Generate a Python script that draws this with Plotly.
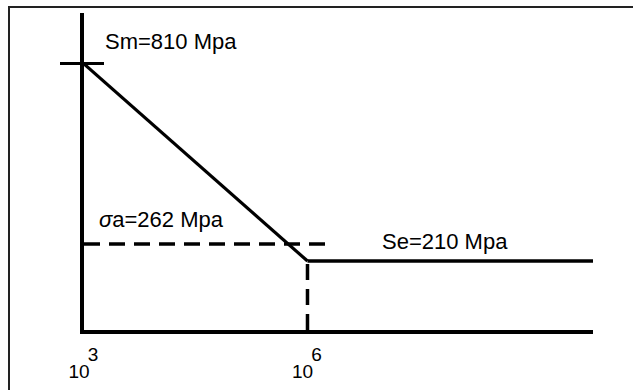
import math
import plotly.graph_objects as go

# ---- data ----
sn_cycles = [1e3, 1e6]          # S-N sloped segment
sn_stress = [810, 210]          # Sm -> Se (MPa)
endurance_cycles = [1e6, 6.8e9] # endurance limit plateau
endurance_stress = [210, 210]
sigma_a = 262                   # applied amplitude (MPa)
sigma_a_cycles = [1e3, 1.8e6]
knee_cycles = [1e6, 1e6]
knee_stress = [0, 210]
tick_cycles = [1e3, 1e6]
tick_base = ["10", "10"]
tick_exponents = ["3", "6"]
sm_value = 810
se_value = 210

W, H = 633, 390
L, R, T, B = 84, 40, 13, 60
FONT = "Liberation Sans, Arial, sans-serif"

fig = go.Figure()

fig.add_trace(go.Scatter(x=sn_cycles, y=sn_stress, mode="lines",
                         line=dict(color="black", width=3.2), hoverinfo="skip"))
fig.add_trace(go.Scatter(x=endurance_cycles, y=endurance_stress, mode="lines",
                         line=dict(color="black", width=3.5), hoverinfo="skip"))
fig.add_trace(go.Scatter(x=sigma_a_cycles, y=[sigma_a, sigma_a], mode="lines",
                         line=dict(color="black", width=3.5, dash="16px,9px"), hoverinfo="skip"))
fig.add_trace(go.Scatter(x=knee_cycles, y=knee_stress, mode="lines",
                         line=dict(color="black", width=3.5, dash="16px,9px"), hoverinfo="skip"))
# invisible traces to activate the overlay axes
fig.add_trace(go.Scatter(x=[sn_cycles[0]], y=[sm_value], yaxis="y2", mode="markers",
                         marker=dict(opacity=0), hoverinfo="skip"))
fig.add_trace(go.Scatter(x=[sn_cycles[0]], y=[sm_value], xaxis="x2", mode="markers",
                         marker=dict(opacity=0), hoverinfo="skip"))

xr = [math.log10(sn_cycles[0]), math.log10(endurance_cycles[1])]
yr = [0, 965]
tickfont = dict(size=19, family=FONT, color="black")

fig.update_layout(
    width=W, height=H,
    margin=dict(l=L, r=R, t=T, b=B),
    paper_bgcolor="white", plot_bgcolor="white",
    showlegend=False,
    font=dict(family=FONT, size=22, color="black"),
    xaxis=dict(type="log", range=xr, showgrid=False, zeroline=False, automargin=False,
               showline=True, linecolor="black", linewidth=4,
               tickvals=tick_cycles, ticktext=tick_base,
               ticks="", ticklabelstandoff=21, ticklabelshift=-5,
               tickfont=tickfont),
    xaxis2=dict(type="log", range=xr, overlaying="x", side="bottom", anchor="y",
                automargin=False,
                showgrid=False, zeroline=False, showline=False,
                tickvals=tick_cycles, ticktext=tick_exponents,
                ticks="", ticklabelstandoff=11, ticklabelshift=9,
                tickfont=tickfont),
    yaxis=dict(range=yr, showgrid=False, zeroline=False, automargin=False,
               showline=True, linecolor="black", linewidth=4,
               tickvals=[sm_value], ticks="outside", ticklen=20, tickwidth=3,
               tickcolor="black", showticklabels=False),
    yaxis2=dict(range=yr, overlaying="y", side="left", showgrid=False, automargin=False,
                zeroline=False, showline=False,
                tickvals=[sm_value], ticks="inside", ticklen=20, tickwidth=3,
                tickcolor="black", showticklabels=False),
)

annots = [
    dict(x=math.log10(sn_cycles[0]), y=sm_value, text="Sm=810 Mpa", xshift=19, yshift=22),
    dict(x=math.log10(sigma_a_cycles[0]), y=sigma_a, text="<i>σ</i>a=262 Mpa", xshift=13, yshift=24),
    dict(x=math.log10(endurance_cycles[0]), y=se_value, text="Se=210 Mpa", xshift=73, yshift=20),
]
for a in annots:
    fig.add_annotation(x=a["x"], y=a["y"], xref="x", yref="y", text=a["text"],
                       showarrow=False, xanchor="left", yanchor="middle",
                       xshift=a["xshift"], yshift=a["yshift"],
                       font=dict(family=FONT, size=22, color="black"))

# outer frame (left and top edges visible within the picture)
pw = W - L - R
ph = H - T - B
fig.add_shape(type="rect", xref="paper", yref="paper",
              x0=(9 - L) / pw, x1=(W + 20 - L) / pw,
              y0=-(H + 20 - (H - B)) / ph, y1=1 + (T - 7) / ph,
              line=dict(color="#222222", width=2), fillcolor="rgba(0,0,0,0)", layer="below")

fig.write_html("out.html", config={"displayModeBar": False},
               post_script="document.body.style.margin='0';")
